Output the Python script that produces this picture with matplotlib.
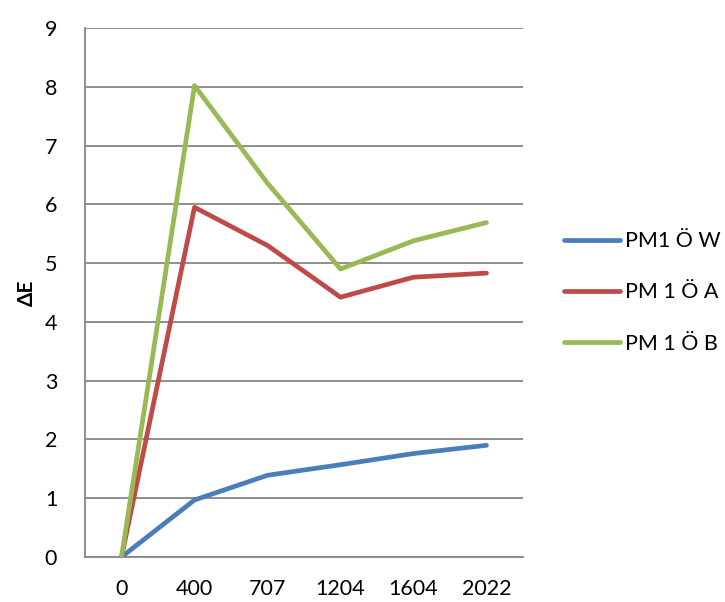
import matplotlib
matplotlib.use("Agg")
import matplotlib.pyplot as plt

# Data
categories = ["0", "400", "707", "1204", "1604", "2022"]
pm1_w = [0.0, 0.97, 1.39, 1.57, 1.76, 1.90]
pm1_a = [0.0, 5.95, 5.30, 4.42, 4.76, 4.83]
pm1_b = [0.0, 8.02, 6.36, 4.90, 5.38, 5.69]
series_names = ["PM1 Ö W", "PM 1 Ö A", "PM 1 Ö B"]
y_ticks = list(range(0, 10))

colors = ["#4A7EBB", "#BE4B48", "#98B954"]
grid_color = "#868686"

plt.rcParams["font.family"] = ["Lato", "DejaVu Sans"]

fig = plt.figure(figsize=(7.25, 6.02), dpi=100)
ax = fig.add_axes([85 / 725, (602 - 557) / 602, (523 - 85) / 725, (557 - 28) / 602])

x = list(range(len(categories)))
for vals, name, c in zip([pm1_w, pm1_a, pm1_b], series_names, colors):
    ax.plot(x, vals, color=c, lw=3.4, label=name, solid_capstyle="round",
            solid_joinstyle="round", zorder=3)

ax.set_xlim(-0.5, len(categories) - 0.5)
ax.set_ylim(0, 9)
ax.set_xticks(x)
ax.set_xticklabels(categories)
ax.set_yticks(y_ticks)
ax.yaxis.grid(True, color=grid_color, lw=1.3)
ax.set_axisbelow(True)

for s in ["top", "right"]:
    ax.spines[s].set_visible(False)
for s in ["left", "bottom"]:
    ax.spines[s].set_color(grid_color)
    ax.spines[s].set_linewidth(1.3)

ax.tick_params(axis="both", length=0, labelsize=15.5, colors="black")
ax.tick_params(axis="y", pad=20)
ax.tick_params(axis="x", pad=16)

ax.set_ylabel("ΔE", fontsize=15, fontweight="bold", labelpad=6)

leg = ax.legend(loc="center left", bbox_to_anchor=(1.05, 0.5), frameon=False,
                fontsize=15.5, handlelength=2.6, handletextpad=0.2,
                labelspacing=1.45)

fig.savefig("out.png", dpi=100, facecolor="white")
